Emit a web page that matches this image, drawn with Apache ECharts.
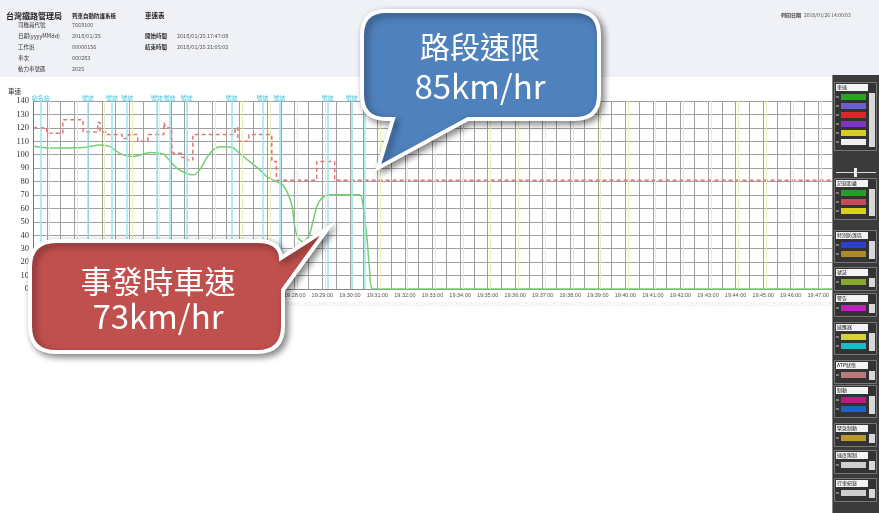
<!DOCTYPE html>
<html><head><meta charset="utf-8">
<script src="https://cdn.jsdelivr.net/npm/echarts@6/dist/echarts.min.js"></script>
<style>html,body{margin:0;padding:0;background:#fff}#c{width:879px;height:513px}</style>
</head><body><div id="c"></div>
<script>
// ---- data ----
const xRange = ["19:18:30", "19:47:30"];
const xTickLabels = ["19:19:00","19:20:00","19:21:00","19:22:00","19:23:00","19:24:00","19:25:00","19:26:00","19:27:00","19:28:00","19:29:00","19:30:00","19:31:00","19:32:00","19:33:00","19:34:00","19:35:00","19:36:00","19:37:00","19:38:00","19:39:00","19:40:00","19:41:00","19:42:00","19:43:00","19:44:00","19:45:00","19:46:00","19:47:00"];
const yRange = [0, 140];

// speed limit (red dashed step line)
const limitTimes = ["19:18:30","19:19:00","19:19:35","19:20:19","19:20:51","19:20:56","19:21:11","19:21:44","19:21:57","19:22:18","19:22:40","19:23:15","19:23:19","19:23:32","19:23:35","19:23:54","19:24:05","19:24:18","19:25:50","19:25:56","19:26:20","19:27:10","19:27:20","19:28:48","19:29:27","19:47:30"];
const limitValues = [120,116,126,117,124,117,115,112,115,110,115,124,120,107,101,98,96,115,120,110,115,95,81,95,81,81];

// train speed (green line)
const speedTimes = ["19:18:30","19:19:07","19:20:19","19:20:56","19:21:18","19:21:39","19:22:08","19:22:45","19:23:14","19:23:28","19:23:43","19:24:04","19:24:19","19:24:33","19:24:48","19:25:02","19:25:17","19:25:43","19:26:00","19:26:22","19:26:44","19:26:59","19:27:12","19:27:34","19:27:45","19:27:54","19:28:00","19:28:07","19:28:20","19:28:33","19:28:48","19:28:59","19:29:16","19:30:22","19:30:28","19:30:37","19:30:43","19:30:50","19:47:30"];
const speedValues = [106.5,105,105.3,107.3,106,101,98.6,101.6,100.4,95.4,90,86.2,85,88.7,97.4,103.6,106,105.6,101,94.9,88.7,83.7,81.3,77.5,71,62,46.5,38,35,41.6,61.4,67.7,70.1,70.1,64,39,14.3,0,0];

// cyan event markers along the top
const markerTimes = ["19:18:47","19:20:30","19:21:22","19:21:55","19:23:00","19:23:28","19:24:05","19:25:43","19:26:50","19:27:27","19:29:12","19:30:04","19:30:32"];
const markerLabels = ["站名站","號誌","號誌","號誌","號誌","號誌","號誌","號誌","號誌","號誌","號誌","號誌",""];

// header texts
const headerLabels = ["司機員代號","日期(yyyyMMdd)","工作班","車次","動力車號碼"];
const headerValues = ["7669100","2018/01/25","00000156","000283","2025"];
const startLabel = ["開始時間","2018/01/25 17:47:08"];
const endLabel = ["結束時間","2018/01/25 21:05:02"];
const printLabel = ["列印日期","2018/01/26 14:00:03"];

// right-side control panel (decoration)
const panelTitles = ["車速","記錄距離","特別防護區","號誌","警告","感應器","ATP狀態","制動","緊急制動","速度限制","行車紀錄"];
const panelRows = [
  ['#22a822','#6b5fd0','#d42a2a','#7f35c4','#d7cf1e','#f0f0f0'],
  ['#23a023','#c84a5a','#d8d020'],
  ['#2b3fd6','#b08a2a'],
  ['#8aa82a'],
  ['#c020c0'],
  ['#d6d23a','#1fb8c8'],
  ['#b87a7a'],
  ['#c01880','#2060c0'],
  ['#b89a2a'],
  ['#cfcfcf'],
  ['#cfcfcf']
];
const panelTops = [82,178,230,267,293,322,360,385,423,450,478];

// ---- helpers ----
function sec(t){const p=t.split(':').map(Number);return p[0]*3600+p[1]*60+p[2];}
function fmt(s){s=Math.round(s);const h=Math.floor(s/3600),m=Math.floor(s%3600/60),x=s%60;return [h,m,x].map(n=>String(n).padStart(2,'0')).join(':');}

// callout shapes
echarts.graphic.registerShape('bubbleBlue', echarts.graphic.extendPath(
  'M 386 11 H 575 Q 599 11 599 35 V 95 Q 599 119 575 119 H 468 L 378 168 L 393 119 H 386 Q 362 119 362 95 V 35 Q 362 11 386 11 Z', {}));
echarts.graphic.registerShape('bubbleRed', echarts.graphic.extendPath(
  'M 56 241 H 258 Q 280 241 281 258 L 328 228 L 283 290 V 326 Q 283 352 257 352 H 56 Q 30 352 30 326 V 267 Q 30 241 56 241 Z', {}));

const chart = echarts.init(document.getElementById('c'), null, {renderer:'canvas'});

const CJK = '"Noto Sans CJK TC"';
const graphics = [];
graphics.push({type:'rect', shape:{x:0,y:0,width:879,height:77}, style:{fill:'#eff1f7'}, z:-1, silent:true});
function txt(x,y,t,size,color,bold,align){
  graphics.push({type:'text', x:x, y:y, silent:true, z:5, style:{text:t, fill:color, font:(bold?'bold ':'')+size+'px '+CJK, align:align||'left', verticalAlign:'middle'}});
}
txt(6,16,'台灣鐵路管理局',8,'#222',true);
txt(72,16,'列車自動防護系統',5.5,'#222',true);
txt(145,16,'車速表',6.5,'#222',true);
const rowY=[25,36,47,58,69];
headerLabels.forEach((l,i)=>{txt(18,rowY[i],l,5.5,'#333',false);txt(72,rowY[i],headerValues[i],5.5,'#555',false);});
txt(145,36,startLabel[0],5.5,'#333',true); txt(177,36,startLabel[1],5.5,'#555',false);
txt(145,47,endLabel[0],5.5,'#333',true); txt(177,47,endLabel[1],5.5,'#555',false);
txt(781,15,printLabel[0],5,'#333',true); txt(804,15,printLabel[1],5,'#555',false);
txt(8,92,'車速',6.5,'#333',false);

// right panel
graphics.push({type:'rect', shape:{x:832,y:75,width:47,height:438}, style:{fill:'#3b3b3b'}, silent:true, z:1});
graphics.push({type:'line', shape:{x1:832.5,y1:75,x2:832.5,y2:513}, style:{stroke:'#888',lineWidth:1}, silent:true, z:2});
panelTops.forEach((top,gi)=>{
  const rows = panelRows[gi];
  const h = 12 + rows.length*9 + 2;
  graphics.push({type:'rect', shape:{x:834.5,y:top+0.5,width:42,height:h}, style:{fill:'#333',stroke:'#777',lineWidth:1}, silent:true, z:2});
  graphics.push({type:'rect', shape:{x:836,y:top+2,width:32,height:7}, style:{fill:'#f4f4f4'}, silent:true, z:3});
  graphics.push({type:'text', x:837, y:top+5.5, silent:true, z:4, style:{text:panelTitles[gi], fill:'#111', font:'5px '+CJK, verticalAlign:'middle'}});
  rows.forEach((c,ri)=>{
    graphics.push({type:'rect', shape:{x:841,y:top+12+ri*9,width:25,height:6}, style:{fill:c}, silent:true, z:3});
    graphics.push({type:'line', shape:{x1:836,y1:top+15+ri*9,x2:839,y2:top+15+ri*9}, style:{stroke:'#ccc',lineWidth:1}, silent:true, z:3});
  });
  graphics.push({type:'rect', shape:{x:869,y:top+11,width:6,height:rows.length*9}, style:{fill:'#d9d9d9'}, silent:true, z:3});
});
graphics.push({type:'line', shape:{x1:836,y1:172.5,x2:876,y2:172.5}, style:{stroke:'#ddd',lineWidth:1}, silent:true, z:3});
graphics.push({type:'rect', shape:{x:854,y:168,width:3,height:9}, style:{fill:'#eee'}, silent:true, z:3});

// callouts
const bubbleStyle = {stroke:'#fff', lineWidth:4, lineJoin:'miter', miterLimit:20, shadowBlur:7, shadowOffsetX:3, shadowOffsetY:3, shadowColor:'rgba(0,0,0,0.45)'};
graphics.push({type:'bubbleBlue', z:100, silent:true, shape:{}, style:Object.assign({fill:'#4f81bd'}, bubbleStyle)});
graphics.push({type:'bubbleRed', z:100, silent:true, shape:{}, style:Object.assign({fill:'#c0504d'}, bubbleStyle)});
function big(x,y,t,size){graphics.push({type:'text', x:x, y:y, z:101, silent:true, style:{text:t, fill:'#fff', font:size+'px '+CJK, align:'center', verticalAlign:'middle'}});}
big(480,47,'路段速限',30);
big(480,86,'85km/hr',33);
big(158,281,'事發時車速',31);
big(158,316,'73km/hr',33);

const option = {
  animation:false,
  backgroundColor:'#ffffff',
  grid:{left:33, right:47, top:101, bottom:224, containLabel:false},
  xAxis:{
    type:'value', min:sec(xRange[0]), max:sec(xRange[1]), interval:30,
    axisLine:{show:true, lineStyle:{color:'#888'}},
    axisTick:{show:false},
    axisLabel:{
      margin:2,
      formatter:v=>{const s=fmt(v);return xTickLabels.includes(s)?('{a|'+s+'}\n{b|2018/01/25}'):'';},
      rich:{a:{fontSize:5.5, color:'#555', fontFamily:'Liberation Sans', lineHeight:9},
            b:{fontSize:5.5, color:'#e6e6e6', fontFamily:'Liberation Sans', lineHeight:9}}
    },
    splitLine:{show:true, lineStyle:{color:'#a0a0a0', width:1}}
  },
  yAxis:{
    type:'value', min:yRange[0], max:yRange[1], interval:10,
    axisLine:{show:true, lineStyle:{color:'#777'}},
    axisTick:{show:false},
    axisLabel:{fontSize:8.5, color:'#333', fontFamily:'Liberation Serif', margin:4},
    splitLine:{show:true, lineStyle:{color:'#a0a0a0', width:1}}
  },
  series:[
    {
      type:'line', name:'minute', data:[], z:1, silent:true,
      markLine:{silent:true, symbol:['none','none'], animation:false,
        lineStyle:{color:'#ebecb8', width:1, type:'solid'}, label:{show:false},
        data:xTickLabels.map(t=>({xAxis:sec(t)+6}))}
    },
    {
      type:'line', name:'markers', data:[], z:1, silent:true,
      markLine:{silent:true, symbol:['none','none'], animation:false,
        lineStyle:{color:'#9ae6f0', width:1.5, type:'solid'},
        label:{show:true, position:'end', formatter:'{b}', color:'#3cc4dc', fontSize:6, fontFamily:'Noto Sans CJK TC', distance:0},
        data:markerTimes.map((t,i)=>({xAxis:sec(t), name:markerLabels[i]}))}
    },
    {
      type:'line', name:'限速', step:'end', symbol:'none', z:3,
      data:limitTimes.map((t,i)=>[sec(t), limitValues[i]]),
      lineStyle:{color:'#e87575', width:1.5, type:[4,3]}
    },
    {
      type:'line', name:'車速', smooth:0.25, symbol:'none', z:4,
      data:speedTimes.map((t,i)=>[sec(t), speedValues[i]]),
      lineStyle:{color:'#74cf74', width:1.5}
    }
  ],
  graphic:{elements:graphics}
};
chart.setOption(option);
</script></body></html>
